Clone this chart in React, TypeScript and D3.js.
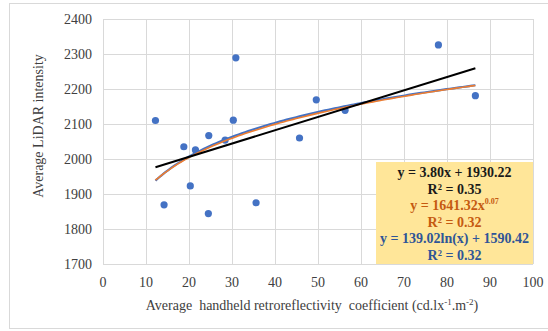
import React, { useEffect, useRef } from "react";
import * as d3 from "d3";

// Scatter data
const retroX = [12.2, 14.2, 18.8, 20.3, 21.5, 24.5, 24.6, 28.4, 30.3, 30.9, 35.6, 45.7, 49.6, 56.3, 78.0, 86.6];
const lidarY = [2110, 1869, 2035, 1923, 2026, 1844, 2067, 2054, 2111, 2289, 1875, 2060, 2169, 2139, 2326, 2181];

const xTicks = [0, 10, 20, 30, 40, 50, 60, 70, 80, 90, 100];
const yTicks = [1700, 1800, 1900, 2000, 2100, 2200, 2300, 2400];

// Trendline coefficients (from the labels; power exponent shown rounded as 0.07)
const linearCoef = [3.8, 1930.22];
const powerCoef = [1641.32, 0.0667];
const logCoef = [139.02, 1590.42];

const labelLines = [
  { text: "y = 3.80x + 1930.22", sup: "", color: "#1a1a1a" },
  { text: "R² = 0.35", sup: "", color: "#1a1a1a" },
  { text: "y = 1641.32x", sup: "0.07", color: "#C55A11" },
  { text: "R² = 0.32", sup: "", color: "#C55A11" },
  { text: "y = 139.02ln(x) + 1590.42", sup: "", color: "#2F5597" },
  { text: "R² = 0.32", sup: "", color: "#2F5597" },
];

export default function App() {
  const svgRef = useRef<SVGSVGElement>(null);

  useEffect(() => {
    if (!svgRef.current) return;
    const svg = d3.select(svgRef.current);
    svg.selectAll("*").remove();

    const width = 548;
    const height = 331;
    const margin = { top: 19, right: 15, bottom: 67, left: 103 };
    const font = "'Liberation Serif', 'Times New Roman', serif";

    // outer frame
    svg.append("rect")
      .attr("x", 9.5).attr("y", 3.5)
      .attr("width", width + 10).attr("height", 325)
      .attr("fill", "#fff")
      .attr("stroke", "#d9d9d9");

    const x = d3.scaleLinear().domain([0, 100]).range([margin.left, width - margin.right]);
    const y = d3.scaleLinear().domain([1700, 2400]).range([height - margin.bottom, margin.top]);

    // grid
    const grid = svg.append("g").attr("stroke", "#d9d9d9").attr("stroke-width", 1);
    xTicks.forEach((t) => {
      grid.append("line")
        .attr("x1", Math.round(x(t)) + 0.5).attr("x2", Math.round(x(t)) + 0.5)
        .attr("y1", y(2400)).attr("y2", y(1700));
    });
    yTicks.forEach((t) => {
      grid.append("line")
        .attr("x1", x(0)).attr("x2", x(100))
        .attr("y1", Math.round(y(t)) + 0.5).attr("y2", Math.round(y(t)) + 0.5);
    });

    // tick labels
    svg.append("g").selectAll("text").data(yTicks).join("text")
      .attr("x", 92).attr("y", (d) => y(d))
      .attr("dy", "0.35em")
      .attr("text-anchor", "end")
      .attr("font-family", font).attr("font-size", 14).attr("fill", "#404040")
      .text((d) => d);

    svg.append("g").selectAll("text").data(xTicks).join("text")
      .attr("x", (d) => x(d)).attr("y", 282)
      .attr("dy", "0.35em")
      .attr("text-anchor", "middle")
      .attr("font-family", font).attr("font-size", 14).attr("fill", "#404040")
      .text((d) => d);

    // axis titles
    svg.append("text")
      .attr("transform", `translate(43, 126) rotate(-90)`)
      .attr("text-anchor", "middle")
      .attr("font-family", font).attr("font-size", 14).attr("fill", "#404040")
      .text("Average LiDAR intensity");

    const xt = svg.append("text")
      .attr("x", 312).attr("y", 305)
      .attr("dy", "0.35em")
      .attr("text-anchor", "middle")
      .attr("font-family", font).attr("font-size", 14).attr("fill", "#404040")
      .style("white-space", "pre");
    xt.append("tspan").text("Average  handheld retroreflectivity  coefficient (cd.lx");
    xt.append("tspan").attr("font-size", 9).attr("dy", -5).text("-1");
    xt.append("tspan").attr("dy", 5).text(".m");
    xt.append("tspan").attr("font-size", 9).attr("dy", -5).text("-2");
    xt.append("tspan").attr("dy", 5).text(")");

    // points
    const pts = retroX.map((v, i) => [v, lidarY[i]] as [number, number]);
    svg.append("g").selectAll("circle").data(pts).join("circle")
      .attr("cx", (d) => x(d[0])).attr("cy", (d) => y(d[1]))
      .attr("r", 3.6)
      .attr("fill", "#4472C4");

    // trendlines over data range
    const [xMin, xMax] = d3.extent(retroX) as [number, number];
    const xs = d3.range(0, 101).map((i) => xMin + (xMax - xMin) * i / 100);
    const line = d3.line<[number, number]>().x((d) => x(d[0])).y((d) => y(d[1])).curve(d3.curveLinear);

    svg.append("path")
      .attr("d", line(xs.map((v) => [v, logCoef[0] * Math.log(v) + logCoef[1]])) as string)
      .attr("fill", "none").attr("stroke", "#4472C4").attr("stroke-width", 2.2);
    svg.append("path")
      .attr("d", line(xs.map((v) => [v, powerCoef[0] * Math.pow(v, powerCoef[1])])) as string)
      .attr("fill", "none").attr("stroke", "#ED7D31").attr("stroke-width", 1.6);
    svg.append("path")
      .attr("d", line([xMin, xMax].map((v) => [v, linearCoef[0] * v + linearCoef[1]])) as string)
      .attr("fill", "none").attr("stroke", "#000").attr("stroke-width", 2);

    // equation box
    const box = { x: 376, y: 162, w: 157, h: 102 };
    svg.append("rect")
      .attr("x", box.x).attr("y", box.y)
      .attr("width", box.w).attr("height", box.h)
      .attr("fill", "#FFE699");

    labelLines.forEach((l, i) => {
      const t = svg.append("text")
        .attr("x", box.x + box.w / 2)
        .attr("y", 172.5 + i * 16.5)
        .attr("dy", "0.35em")
        .attr("text-anchor", "middle")
        .attr("font-family", font).attr("font-size", 14).attr("font-weight", "bold")
        .attr("fill", l.color);
      t.append("tspan").text(l.text);
      if (l.sup) t.append("tspan").attr("font-size", 8).attr("dy", -6).text(l.sup);
    });
  }, []);

  return (
    <svg
      ref={svgRef}
      width={548}
      height={331}
      style={{ position: "absolute", left: 0, top: 0, background: "#fff" }}
    />
  );
}
